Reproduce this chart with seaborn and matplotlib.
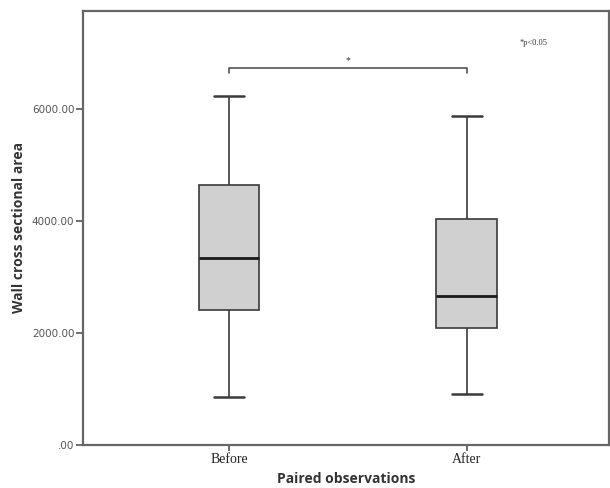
import matplotlib
matplotlib.use("Agg")
import matplotlib.pyplot as plt
import seaborn as sns
import pandas as pd

# Data: five-number summaries (min, Q1, median, Q3, max)
groups = ["Before", "After"]
before_vals = [859, 2410, 3340, 4642, 6243]
after_vals = [912, 2082, 2666, 4038, 5880]
yticks = [0, 2000, 4000, 6000]
ytick_labels = [".00", "2000.00", "4000.00", "6000.00"]

df = pd.DataFrame({
    "group": ["Before"] * len(before_vals) + ["After"] * len(after_vals),
    "value": before_vals + after_vals,
})

sns.set_style("white")
fig = plt.figure(figsize=(6.1, 4.88), dpi=100)
ax = fig.add_axes([0.1356, 0.0887, 0.998 - 0.1356, 0.9775 - 0.0887])

line_col = "#3a3a3a"
sns.boxplot(data=df, x="group", y="value", order=groups, ax=ax,
            width=0.256, whis=(0, 100), color="#d0d0d0", saturation=1,
            linecolor=line_col, linewidth=1.2,
            medianprops=dict(color="#1a1a1a", linewidth=2.0),
            capprops=dict(color=line_col, linewidth=1.8),
            showfliers=False)

ax.set_xlim(-0.615, 1.597)
ax.set_ylim(0, 7760)
ax.set_yticks(yticks)
ax.set_yticklabels(ytick_labels, fontsize=7.5, color="#555555", family="DejaVu Sans")
ax.set_xticks([0, 1])
ax.set_xticklabels(groups, fontsize=10, family="Liberation Serif", color="#222222")
ax.tick_params(axis="y", direction="out", length=5, width=1.2, color="#555555", left=True, pad=1)
ax.tick_params(axis="x", direction="out", length=4, width=1.2, color="#555555", bottom=True, pad=2)

for s in ax.spines.values():
    s.set_color("#666666")
    s.set_linewidth(1.6)

ax.set_xlabel("Paired observations", fontsize=10, fontweight="bold",
              family="Open Sans", color="#333333", labelpad=4)
ax.set_ylabel("Wall cross sectional area", fontsize=10, fontweight="bold",
              family="Open Sans", color="#333333", labelpad=4)

# significance bracket
yb = 6740
ytick_b = 6650
ax.plot([0, 0, 1, 1], [ytick_b, yb, yb, ytick_b], color="#555555", linewidth=1.2)
ax.text(0.5, yb + 60, "*", ha="center", va="bottom", fontsize=7,
        family="Liberation Serif", color="#333333")
ax.text(1.28, 7180, "*p<0.05", ha="center", va="center", fontsize=6,
        family="Liberation Serif", color="#333333")

fig.savefig("out.png", dpi=100)
